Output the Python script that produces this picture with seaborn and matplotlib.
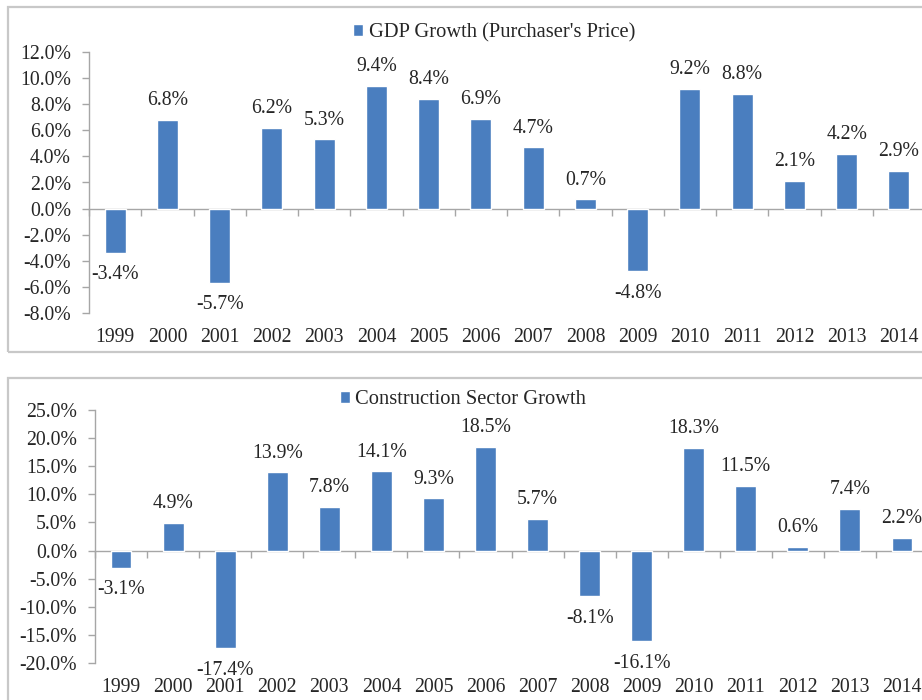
import matplotlib
matplotlib.use("Agg")
import matplotlib.pyplot as plt
from matplotlib.patches import Rectangle
from matplotlib.ticker import FuncFormatter, MultipleLocator
import pandas as pd
import seaborn as sns

years = [str(y) for y in range(1999, 2015)]
gdp_growth = [-3.4, 6.8, -5.7, 6.2, 5.3, 9.4, 8.4, 6.9, 4.7, 0.7, -4.8, 9.2, 8.8, 2.1, 4.2, 2.9]
construction_growth = [-3.1, 4.9, -17.4, 13.9, 7.8, 14.1, 9.3, 18.5, 5.7, -8.1, -16.1, 18.3, 11.5, 0.6, 7.4, 2.2]

gdp_label = "GDP Growth (Purchaser's Price)"
construction_label = "Construction Sector Growth"

sns.set_theme(style="white")
plt.rcParams["font.family"] = ["Liberation Serif", "DejaVu Serif"]

BAR = "#4A7EBF"
TEXT = "#262626"
AXIS = "#a6a6a6"
FS = 14.2
LEG_FS = 14.8

W, H = 922, 700
fig = plt.figure(figsize=(W / 100, H / 100), dpi=100)

# light frames around the two chart panels
for (x0, y0, x1, y1) in [(8, 7, 935, 352), (8, 378, 935, 710)]:
    fig.patches.append(Rectangle((x0 / W, 1 - y1 / H), (x1 - x0) / W, (y1 - y0) / H,
                                 transform=fig.transFigure, fill=False,
                                 edgecolor="#c8c8c8", linewidth=1.6, zorder=0))


def panel(rect, values, label, ylim, step, legend_xy):
    ax = fig.add_axes(rect)
    df = pd.DataFrame({"year": years, "value": values})
    sns.barplot(data=df, x="year", y="value", color=BAR, saturation=1,
                width=0.4, ax=ax, label=label)
    ax.set_xlim(-0.5, len(years) - 0.5)
    ax.set_ylim(*ylim)
    ax.yaxis.set_major_locator(MultipleLocator(step))
    ax.yaxis.set_major_formatter(FuncFormatter(lambda v, _: f"{v:.1f}%"))
    ax.set_xlabel("")
    ax.set_ylabel("")
    for s in ["top", "right", "bottom"]:
        ax.spines[s].set_visible(False)
    ax.spines["left"].set_color(AXIS)
    ax.spines["left"].set_linewidth(1.0)
    ax.tick_params(axis="y", left=True, length=5, width=1.0, color=AXIS,
                   pad=8, labelsize=FS, labelcolor=TEXT)
    ax.tick_params(axis="x", bottom=False, length=0, pad=11,
                   labelsize=FS, labelcolor=TEXT)

    # category axis line at zero with boundary ticks
    zero_frac = (0 - ylim[0]) / (ylim[1] - ylim[0])
    sec = ax.secondary_xaxis(zero_frac)
    sec.set_xticks([i - 0.5 for i in range(len(years) + 1)])
    sec.set_xticklabels([])
    sec.tick_params(axis="x", direction="out", length=5, width=1.0, color=AXIS)
    for s in sec.spines.values():
        s.set_color(AXIS)
        s.set_linewidth(1.0)

    # value labels
    for patch, v in zip(ax.patches, values):
        xc = patch.get_x() + patch.get_width() / 2
        if v >= 0:
            ax.annotate(f"{v:.1f}%", (xc, v), xytext=(0, 7), textcoords="offset points",
                        ha="center", va="bottom", fontsize=FS, color=TEXT,
                        annotation_clip=False)
        else:
            ax.annotate(f"{v:.1f}%", (xc, v), xytext=(0, -9), textcoords="offset points",
                        ha="center", va="top", fontsize=FS, color=TEXT,
                        annotation_clip=False)

    ax.legend(loc="center", bbox_to_anchor=legend_xy, bbox_transform=fig.transFigure,
              frameon=False, fontsize=LEG_FS, handlelength=0.5, handleheight=0.5,
              handletextpad=0.25, labelcolor=TEXT)
    return ax


# GDP panel
panel([89 / W, 1 - 313 / H, (925 - 89) / W, (313 - 52) / H],
      gdp_growth, gdp_label, (-8, 12), 2, (494 / W, 1 - 33 / H))

# Construction panel
panel([95 / W, 1 - 663 / H, (928 - 95) / W, (663 - 410) / H],
      construction_growth, construction_label, (-20, 25), 5, (463 / W, 1 - 400 / H))

fig.savefig("out.png", dpi=100, facecolor="white")
